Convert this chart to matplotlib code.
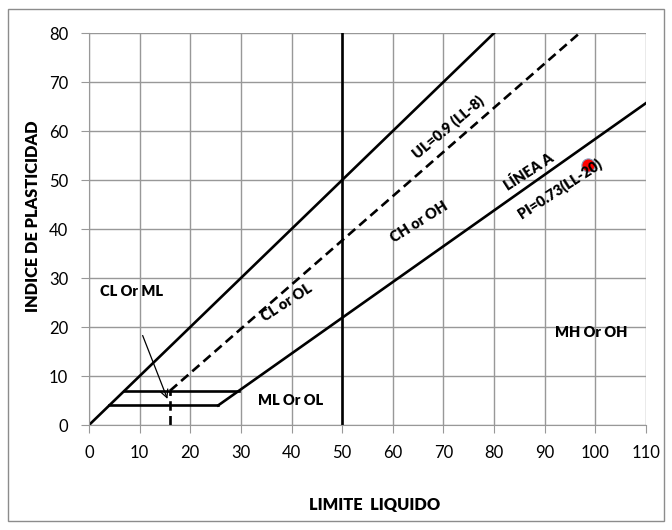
import matplotlib.pyplot as plt
from matplotlib.patches import Rectangle

plt.rcParams['font.family'] = ['Lato', 'DejaVu Sans']

# Plasticity chart lines
u_line_x = [0, 80]
u_line_y = [0, 80]
ul_x = [16, 96.9]
ul_y = [7, 80]
ul_vert_x = [16, 16]
ul_vert_y = [0, 7]
a_line_x = [25.5, 110]
a_line_y = [4, 65.7]
h7_x = [7, 29.6]
h7_y = [7, 7]
h4_x = [4, 25.5]
h4_y = [4, 4]
v50_x = [50, 50]
v50_y = [0, 80]

# Sample point
sample_ll = [98.5]
sample_pi = [53]

x_ticks = list(range(0, 111, 10))
y_ticks = list(range(0, 81, 10))

fig = plt.figure(figsize=(6.72, 5.30), dpi=100)
ax = fig.add_axes([0.1324, 0.198, 0.9613 - 0.1324, 0.9377 - 0.198])

# outer chart border
fig.patches.append(Rectangle((8 / 672, 9 / 530), 656 / 672, 512 / 530,
                             transform=fig.transFigure, fill=False,
                             edgecolor='#8c8c8c', linewidth=1))

dash = (0, (3.6, 2))
ax.plot(u_line_x, u_line_y, color='black', lw=1.9)
ax.plot(ul_x, ul_y, color='black', lw=1.9, linestyle=dash)
ax.plot(ul_vert_x, ul_vert_y, color='black', lw=1.9, linestyle=dash)
ax.plot(a_line_x, a_line_y, color='black', lw=1.9)
ax.plot(h7_x, h7_y, color='black', lw=1.9)
ax.plot(h4_x, h4_y, color='black', lw=1.9)
ax.plot(v50_x, v50_y, color='black', lw=1.9)

ax.scatter(sample_ll, sample_pi, s=90, color='#ff0000', edgecolor='#8899bb',
           linewidth=0.8, zorder=5)

ax.annotate('', xy=(15.7, 4.8), xytext=(10.4, 18.8),
            arrowprops=dict(arrowstyle='->', color='black', lw=0.9,
                            mutation_scale=14))

tkw = dict(fontsize=10.5, fontweight='heavy', ha='center', va='center', zorder=6)
ax.text(8.3, 27.3, 'CL Or ML', **tkw)
ax.text(39, 25, 'CL or OL', rotation=33, **tkw)
ax.text(65.2, 41.5, 'CH or OH', rotation=32, **tkw)
ax.text(70.9, 60.8, 'UL=0.9 (LL-8)', rotation=40, **tkw)
ax.text(86.8, 51.8, 'LÍNEA A', rotation=33, **tkw)
ax.text(92.9, 48.2, 'PI=0.73(LL-20)', rotation=33, **tkw)
ax.text(99.2, 18.8, 'MH Or OH', **tkw)
ax.text(39.8, 5, 'ML Or OL', **tkw)

ax.set_xlim(0, 110)
ax.set_ylim(0, 80)
ax.set_xticks(x_ticks)
ax.set_yticks(y_ticks)
ax.grid(True, color='#989898', lw=1)
ax.set_axisbelow(True)
for s in ['top', 'right']:
    ax.spines[s].set_visible(False)
for s in ['left', 'bottom']:
    ax.spines[s].set_color('#989898')
ax.tick_params(axis='both', colors='#989898', labelcolor='black',
               labelsize=12, length=5.5, direction='out')
ax.tick_params(axis='x', pad=9)
ax.tick_params(axis='y', pad=9.5)

ax.set_xlabel('LIMITE  LIQUIDO', fontsize=11.8, fontweight='heavy')
ax.set_ylabel('INDICE DE PLASTICIDAD', fontsize=11.8, fontweight='heavy')
ax.xaxis.set_label_coords(0.513, -0.184)
ax.yaxis.set_label_coords(-0.087, 0.533)

fig.savefig('out.png', dpi=100)
